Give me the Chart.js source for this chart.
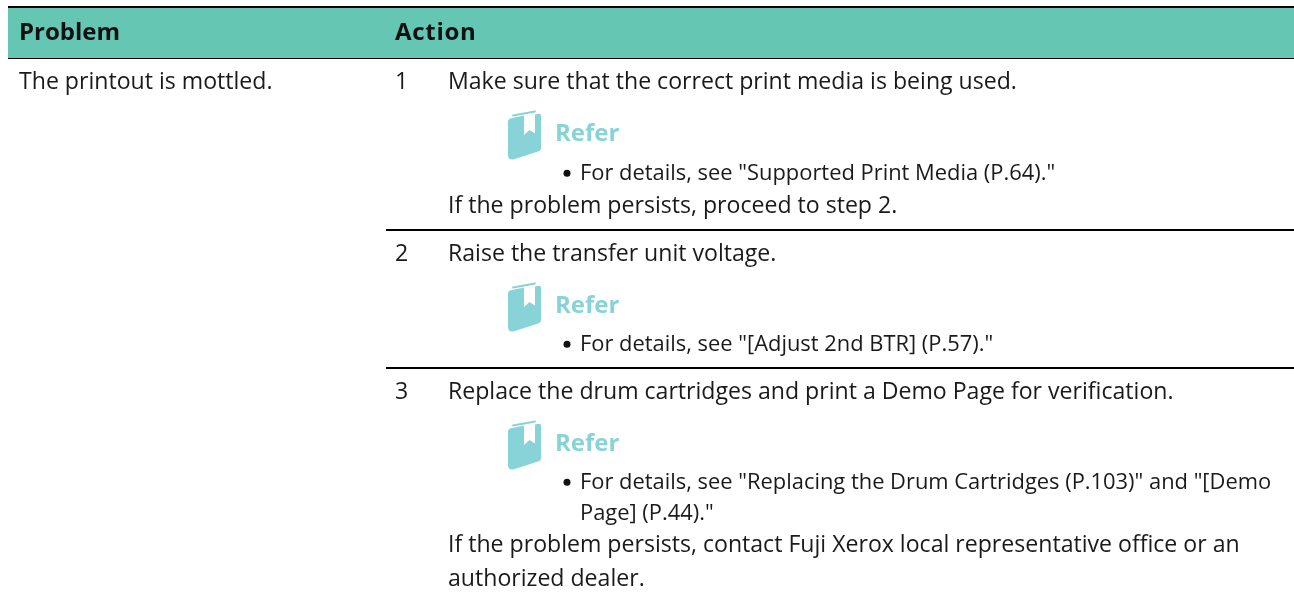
<!DOCTYPE html>
<html><head><meta charset="utf-8">
<style>html,body{margin:0;padding:0;background:#fff}#w{position:relative;width:1294px;height:598px}canvas{display:block}</style>
<script src="https://cdn.jsdelivr.net/npm/chart.js@4/dist/chart.umd.js"></script>
</head><body><div id="w"><canvas id="c" width="1294" height="598"></canvas></div>
<script>
const headers = ["Problem", "Action"];
const problem = "The printout is mottled.";
const stepNumbers = ["1", "2", "3"];
const stepTexts = ["Make sure that the correct print media is being used.", "Raise the transfer unit voltage.", "Replace the drum cartridges and print a Demo Page for verification."];
const referLabel = "Refer";
const referBullets = [
  ["For details, see \"Supported Print Media (P.64).\""],
  ["For details, see \"[Adjust 2nd BTR] (P.57).\""],
  ["For details, see \"Replacing the Drum Cartridges (P.103)\" and \"[Demo", "Page] (P.44).\""]
];
const followUps = [
  ["If the problem persists, proceed to step 2."],
  [],
  ["If the problem persists, contact Fuji Xerox local representative office or an", "authorized dealer."]
];
const FONT = '"Open Sans"';
const BODY = '400 23.1px ' + FONT;
const BULLET = '400 21.9px ' + FONT;
const BOLD = '700 24px ' + FONT;
const REFER = '700 24px ' + FONT;
const INK = '#1a1a1a', TEAL = '#87d3d7';
const stepY = [89, 261, 399];
const bookY = [111, 283, 421];
const referY = [141, 313, 451];
const bulletY = [180, 351, 489];
const followY = [213, 0, 552];
const LINE = 33.5;
function book(ctx,x,y){
  ctx.save();ctx.translate(x,y);ctx.fillStyle=TEAL;
  ctx.beginPath();ctx.moveTo(0,11);ctx.quadraticCurveTo(0,8,3,7.3);ctx.lineTo(16,4.5);ctx.lineTo(16,24);ctx.lineTo(21.5,19);ctx.lineTo(27,22.5);ctx.lineTo(27,3.5);ctx.lineTo(31,2.7);ctx.quadraticCurveTo(33,2.5,33,5);
  ctx.lineTo(33,37);ctx.quadraticCurveTo(33,39.5,30,40.5);ctx.lineTo(6,48.3);ctx.quadraticCurveTo(0,49.5,0,44);ctx.closePath();ctx.fill();
  ctx.strokeStyle=TEAL;ctx.lineWidth=1.8;ctx.lineCap='round';ctx.beginPath();ctx.moveTo(5,4.5);ctx.lineTo(27,0.5);ctx.stroke();
  ctx.restore();
}
const textPlugin = {id:'tableText',afterDatasetsDraw(chart){
  const ctx=chart.ctx,X=chart.scales.x,Y=chart.scales.y;
  const T=(s,x,y,f,c)=>{ctx.font=f;ctx.fillStyle=c||INK;ctx.textBaseline='alphabetic';ctx.textAlign='left';ctx.fillText(s,X.getPixelForValue(x),Y.getPixelForValue(y));};
  T(headers[0],19,39.5,BOLD,'#111');
  ctx.save();ctx.letterSpacing='0.7px';T(headers[1],395,39.5,BOLD,'#111');ctx.restore();
  T(problem,19,stepY[0],BODY);
  stepTexts.forEach((s,i)=>{
    T(stepNumbers[i],395,stepY[i],BODY);T(s,448,stepY[i],BODY);
    book(ctx,X.getPixelForValue(508),Y.getPixelForValue(bookY[i]));
    T(referLabel,555,referY[i],REFER,TEAL);
    referBullets[i].forEach((b,j)=>{
      if(j===0){ctx.fillStyle='#111';ctx.beginPath();ctx.arc(X.getPixelForValue(567),Y.getPixelForValue(bulletY[i]-6.7),3.5,0,7);ctx.fill();}
      T(b,580,bulletY[i]+j*30.5,BULLET);
    });
    followUps[i].forEach((b,j)=>T(b,448,followY[i]+j*LINE,BODY));
  });
}};
const ruleX = [8,1294], ruleXb=[386,1294];
const pts=(xs,y)=>xs.map(x=>({x,y}));
new Chart(document.getElementById('c'),{type:'line',data:{datasets:[
  {data:pts(ruleX,33),borderColor:'#65c6b3',borderWidth:50},
  {data:pts(ruleX,7),borderColor:'#000',borderWidth:2},
  {data:pts(ruleX,58),borderColor:'#000',borderWidth:2},
  {data:pts(ruleXb,230),borderColor:'#000',borderWidth:2},
  {data:pts(ruleXb,368),borderColor:'#000',borderWidth:2}
]},options:{responsive:false,animation:false,events:[],layout:{padding:0},
  elements:{point:{radius:0},line:{borderCapStyle:'butt'}},
  plugins:{legend:{display:false},tooltip:{enabled:false},title:{display:false}},
  scales:{x:{type:'linear',display:false,min:0,max:1294},y:{type:'linear',display:false,min:0,max:598,reverse:true}}},
  plugins:[textPlugin]});
</script></body></html>
